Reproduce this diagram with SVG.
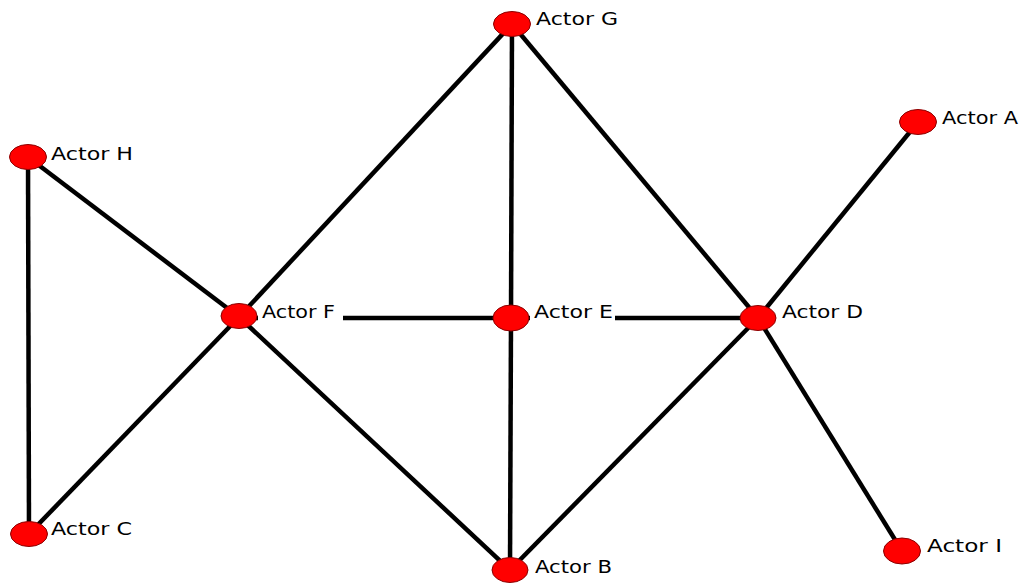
<svg xmlns="http://www.w3.org/2000/svg" width="1026" height="583" viewBox="0 0 1026 583">
<style>
.e{stroke:#000;stroke-width:4.5;fill:none;stroke-linecap:butt}
.n{fill:#ff0000;stroke:#8b0000;stroke-width:1}
.t{font-family:"DejaVu Sans",Verdana,sans-serif;font-size:18px;fill:#000}
.bg{fill:#fff}
</style>
<rect width="1026" height="583" fill="#fff"/>
<g id="connectors">
<line class="e" x1="28" y1="157" x2="29" y2="534"/>
<line class="e" x1="28" y1="157" x2="239" y2="317"/>
<line class="e" x1="239" y1="317" x2="29" y2="534"/>
<line class="e" x1="239" y1="317" x2="512" y2="24"/>
<line class="e" x1="239" y1="318" x2="511" y2="318"/>
<line class="e" x1="239" y1="317" x2="510" y2="570"/>
<line class="e" x1="512" y1="24" x2="511" y2="318"/>
<line class="e" x1="512" y1="24" x2="758" y2="318"/>
<line class="e" x1="511" y1="318" x2="510" y2="570"/>
<line class="e" x1="511" y1="318" x2="758" y2="318"/>
<line class="e" x1="758" y1="318" x2="918" y2="122"/>
<line class="e" x1="758" y1="318" x2="510" y2="570"/>
<line class="e" x1="758" y1="318" x2="902" y2="551"/>
</g>
<g id="node-G"><ellipse class="n" cx="512" cy="24" rx="18.5" ry="12.5"/><text class="t" x="536" y="25" textLength="82" lengthAdjust="spacingAndGlyphs">Actor G</text></g>
<g id="node-A"><ellipse class="n" cx="918" cy="122" rx="18.5" ry="12.5"/><text class="t" x="942" y="124" textLength="76" lengthAdjust="spacingAndGlyphs">Actor A</text></g>
<g id="node-H"><ellipse class="n" cx="28" cy="157" rx="18.5" ry="12.5"/><text class="t" x="51" y="160" textLength="82" lengthAdjust="spacingAndGlyphs">Actor H</text></g>
<g id="node-F"><rect class="bg" x="258" y="300" width="85" height="25"/><ellipse class="n" cx="239" cy="316" rx="18" ry="12.5"/><text class="t" x="262" y="318" textLength="73" lengthAdjust="spacingAndGlyphs">Actor F</text></g>
<g id="node-E"><rect class="bg" x="530" y="300" width="85" height="25"/><ellipse class="n" cx="511" cy="318" rx="18" ry="13"/><text class="t" x="534" y="318" textLength="79" lengthAdjust="spacingAndGlyphs">Actor E</text></g>
<g id="node-D"><ellipse class="n" cx="758" cy="318" rx="18" ry="12.5"/><text class="t" x="782" y="318" textLength="81" lengthAdjust="spacingAndGlyphs">Actor D</text></g>
<g id="node-C"><ellipse class="n" cx="29" cy="534" rx="18.5" ry="12.5"/><text class="t" x="51" y="535" textLength="81" lengthAdjust="spacingAndGlyphs">Actor C</text></g>
<g id="node-B"><ellipse class="n" cx="510" cy="570" rx="18" ry="12.5"/><text class="t" x="535" y="573" textLength="77" lengthAdjust="spacingAndGlyphs">Actor B</text></g>
<g id="node-I"><ellipse class="n" cx="902" cy="551" rx="18.5" ry="13"/><text class="t" x="927" y="552" textLength="75" lengthAdjust="spacingAndGlyphs">Actor I</text></g>
</svg>
